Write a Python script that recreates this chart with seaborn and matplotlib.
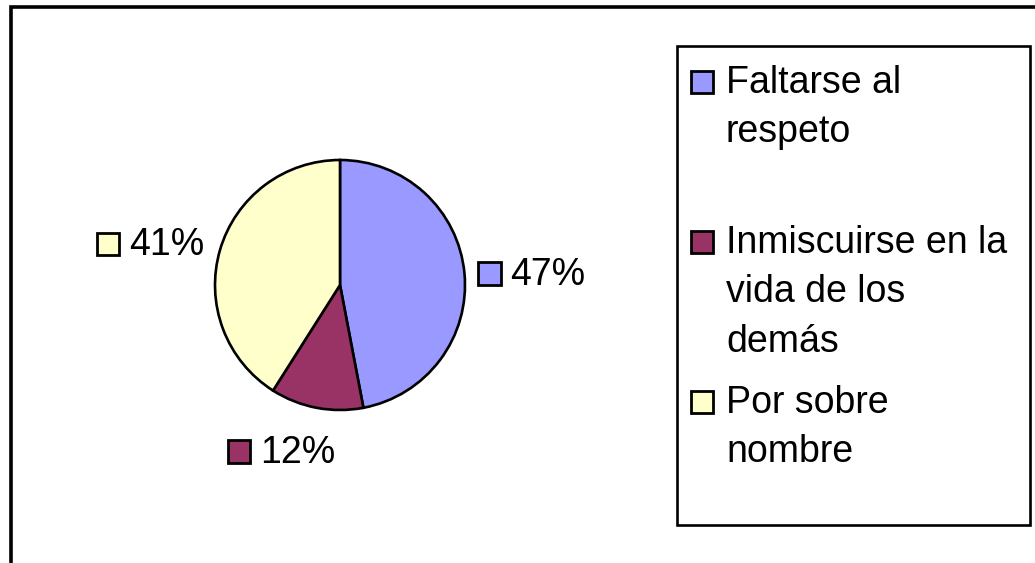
import numpy as np
import matplotlib
matplotlib.use("Agg")
import matplotlib.pyplot as plt
import seaborn as sns
from matplotlib.patches import Rectangle
from matplotlib.offsetbox import AnnotationBbox, DrawingArea, TextArea, HPacker

# data
categories = ["Faltarse al\nrespeto", "Inmiscuirse en la\nvida de los\ndemás", "Por sobre\nnombre"]
percentages = [47, 12, 41]
colors = ["#9999FF", "#993366", "#FFFFCC"]

sns.set_theme(style="white")
plt.rcParams["font.family"] = ["Liberation Sans", "DejaVu Sans"]

W, H = 1035, 563
fig = plt.figure(figsize=(W / 100, H / 100), dpi=100)
ax = fig.add_axes([0, 0, 1, 1])

# pie in pixel-like coordinates
cx, cy, r = 340, 278, 125
wedges, _ = ax.pie(percentages, colors=colors, startangle=90, counterclock=False,
                   center=(cx, cy), radius=r,
                   wedgeprops=dict(edgecolor="black", linewidth=1.9))
ax.set_xlim(0, W)
ax.set_ylim(0, H)
ax.set_aspect("equal")
ax.axis("off")

FS = 27
sq = 16  # marker size in points

# percentage labels with small coloured squares, outside each slice
for w, pct, col in zip(wedges, percentages, colors):
    mid = np.deg2rad((w.theta1 + w.theta2) / 2)
    dx, dy = np.cos(mid), np.sin(mid)
    dist = 1.1 + 0.12 * abs(dy)
    da = DrawingArea(sq, sq)
    da.add_artist(Rectangle((0, 0), sq, sq, fc=col, ec="black", lw=2))
    ta = TextArea(f"{pct}%", textprops=dict(fontsize=FS, color="black"))
    box = HPacker(children=[da, ta], sep=7, align="baseline", pad=0)
    ha = np.clip(0.5 - 1.5 * dx, 0, 1)
    va = np.clip(0.62 - 0.5 * dy, 0, 1)
    ab = AnnotationBbox(box, (cx + dist * r * dx, cy + dist * r * dy),
                        frameon=False, pad=0, box_alignment=(ha, va))
    ax.add_artist(ab)

# legend box drawn by hand (entries top-aligned, evenly spaced)
leg_left, leg_right, leg_top, leg_bottom = 677, 1030, H - 46, H - 525
ax.add_patch(Rectangle((leg_left, leg_bottom), leg_right - leg_left, leg_top - leg_bottom,
                       fill=False, ec="black", lw=1.9))
first_base = H - 93
entry_step = 160
line_step = 49.5
for i, (lab, col) in enumerate(zip(categories, colors)):
    base = first_base - i * entry_step
    ax.add_patch(Rectangle((691, base), 22, 22, fc=col, ec="black", lw=2))
    for j, line in enumerate(lab.split("\n")):
        ax.text(726, base - j * line_step, line, fontsize=FS, va="baseline", ha="left",
                color="black")

# outer chart frame (runs off the right and bottom edges)
ax.add_patch(Rectangle((10.5, -20), W, H - 7 + 20, fill=False, ec="black", lw=2.6))

fig.savefig("out.png", dpi=100)
